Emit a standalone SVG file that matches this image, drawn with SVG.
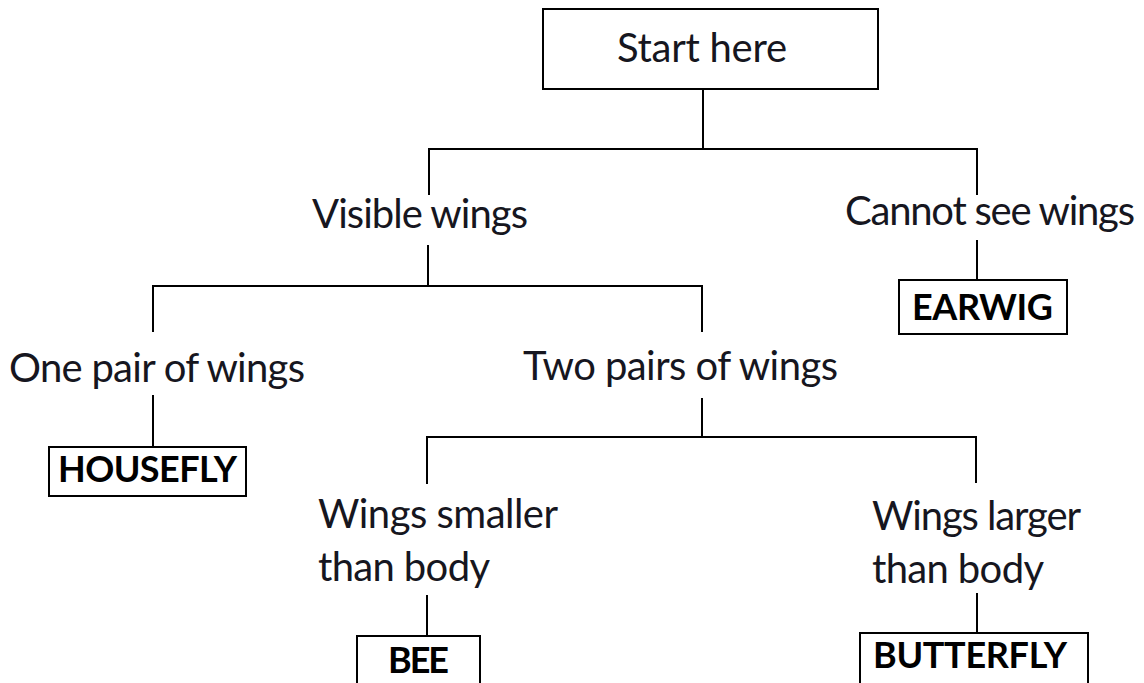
<svg xmlns="http://www.w3.org/2000/svg" width="1144" height="683" viewBox="0 0 1144 683">
<style>
.t{font-family:Lato,"Liberation Sans",sans-serif;font-size:40px;fill:#161620}
.b{font-family:Lato,"Liberation Sans",sans-serif;font-size:36px;font-weight:bold;fill:#000}
.box{fill:#fff;stroke:#000;stroke-width:2}
.c{stroke:#000;stroke-width:2;fill:none}
</style>
<rect width="1144" height="683" fill="#fff"/>
<g id="connectors">
<path class="c" d="M703 89V149M429 195V149H977V195"/>
<path class="c" d="M977 240V280"/>
<path class="c" d="M428 245V286M153 332V286H702V332"/>
<path class="c" d="M153 395V447"/>
<path class="c" d="M702 398V437M427 484V437H976V483"/>
<path class="c" d="M427 595V636"/>
<path class="c" d="M977 593V633"/>
</g>
<g id="start"><rect class="box" x="543" y="9" width="335" height="80"/><text class="t" x="617" y="62" textLength="170">Start here</text></g>
<g id="visible"><text class="t" x="312" y="228" textLength="216">Visible wings</text></g>
<g id="cannot"><text class="t" x="845" y="225" textLength="290">Cannot see wings</text></g>
<g id="earwig"><rect class="box" x="899" y="280" width="168" height="54"/><text class="b" x="912" y="320" textLength="141">EARWIG</text></g>
<g id="onepair"><text class="t" x="9" y="382" textLength="296">One pair of wings</text></g>
<g id="twopairs"><text class="t" x="523" y="380" textLength="315">Two pairs of wings</text></g>
<g id="housefly"><rect class="box" x="49" y="447" width="197" height="49"/><text class="b" x="58" y="482" textLength="179">HOUSEFLY</text></g>
<g id="smaller"><text class="t" x="318" y="528" textLength="240">Wings smaller</text><text class="t" x="318" y="581" textLength="172">than body</text></g>
<g id="larger"><text class="t" x="872" y="530" textLength="209">Wings larger</text><text class="t" x="872" y="583" textLength="172">than body</text></g>
<g id="bee"><rect class="box" x="357" y="636" width="123" height="60"/><text class="b" x="388" y="673" textLength="61">BEE</text></g>
<g id="butterfly"><rect class="box" x="860" y="633" width="228" height="60"/><text class="b" x="873" y="668" textLength="194">BUTTERFLY</text></g>
</svg>
